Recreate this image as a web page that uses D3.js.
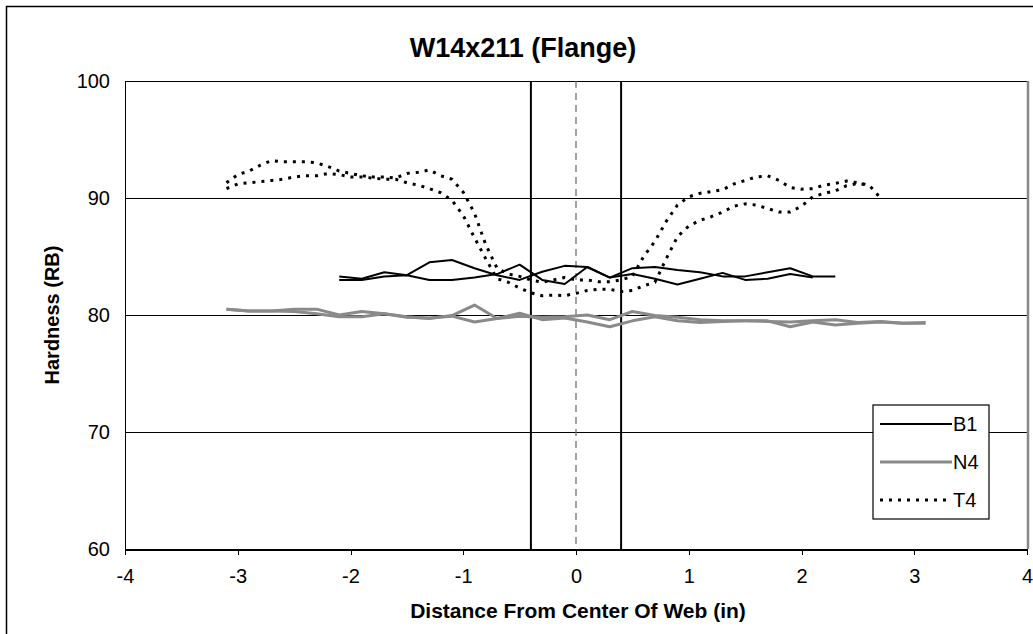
<!DOCTYPE html>
<meta charset="utf-8">
<style>
body { margin: 0; background: #fff; }
svg { font-family: Arial, "Liberation Sans", sans-serif; }
.axis path, .axis line { stroke: #000; shape-rendering: crispEdges; }
</style>
<body>
<script src="https://cdn.jsdelivr.net/npm/d3@7"></script>
<script>

// x positions (in) and hardness readings, two traverses per specimen
var xB1a = [-2.1,-1.9,-1.7,-1.5,-1.3,-1.1,-0.9,-0.7,-0.5,-0.3,-0.1,0.1,0.3,0.5,0.7,0.9,1.1,1.3,1.5,1.7,1.9,2.1,2.3];
var B1a  = [83.3,83.1,83.65,83.4,84.5,84.7,84.0,83.4,83.0,83.7,84.2,84.1,83.2,84.0,84.1,83.85,83.65,83.3,83.3,83.65,84.0,83.3,83.3];
var xB1b = [-2.1,-1.9,-1.7,-1.5,-1.3,-1.1,-0.9,-0.7,-0.5,-0.3,-0.1,0.1,0.3,0.5,0.7,0.9,1.1,1.3,1.5,1.7,1.9,2.1];
var B1b  = [83.0,83.0,83.3,83.4,83.0,83.0,83.2,83.5,84.3,83.0,82.65,84.1,83.2,83.5,83.1,82.6,83.1,83.6,83.0,83.1,83.5,83.2];

var xN4 = [-3.1,-2.9,-2.7,-2.5,-2.3,-2.1,-1.9,-1.7,-1.5,-1.3,-1.1,-0.9,-0.7,-0.5,-0.3,-0.1,0.1,0.3,0.5,0.7,0.9,1.1,1.3,1.5,1.7,1.9,2.1,2.3,2.5,2.7,2.9,3.1];
var N4a = [80.5,80.35,80.35,80.5,80.5,80.0,80.3,80.1,79.85,79.7,79.95,80.85,79.7,79.9,79.8,79.85,80.0,79.6,80.3,79.95,79.8,79.6,79.5,79.5,79.45,79.4,79.5,79.6,79.35,79.45,79.3,79.35];
var N4b = [80.5,80.35,80.35,80.3,80.1,79.85,79.85,80.1,79.8,79.75,79.9,79.4,79.7,80.15,79.6,79.75,79.4,79.0,79.5,79.85,79.5,79.35,79.45,79.5,79.5,79.0,79.4,79.15,79.3,79.4,79.3,79.3];

var xT4a = [-3.1,-3.0,-2.9,-2.8,-2.7,-2.6,-2.5,-2.4,-2.3,-2.2,-2.1,-2.0,-1.9,-1.8,-1.7,-1.6,-1.5,-1.4,-1.3,-1.2,-1.1,-1.0,-0.9,-0.8,-0.7,-0.6,-0.5,-0.4,-0.3,-0.2,-0.1,0.0,0.1,0.2,0.3,0.4,0.5,0.6,0.7,0.8,0.9,1.0,1.1,1.2,1.3,1.4,1.5,1.6,1.7,1.8,1.9,2.0,2.1,2.2,2.3,2.4,2.5,2.6,2.7];
var T4a  = [91.3,92.0,92.3,92.8,93.2,93.1,93.1,93.1,93.0,92.7,92.3,92.1,91.9,91.8,91.8,91.7,92.1,92.2,92.4,91.9,91.6,90.5,88.7,86.0,84.0,83.5,83.3,83.0,82.8,83.0,83.2,83.0,83.0,82.85,82.85,83.0,83.3,85.0,86.3,88.0,89.4,90.1,90.4,90.55,90.7,91.2,91.5,91.8,91.9,91.5,90.9,90.75,90.8,91.1,91.25,91.45,91.3,91.1,90.0];
var xT4b = [-3.1,-3.0,-2.9,-2.8,-2.7,-2.6,-2.5,-2.4,-2.3,-2.2,-2.1,-2.0,-1.9,-1.8,-1.7,-1.6,-1.5,-1.4,-1.3,-1.2,-1.1,-1.0,-0.9,-0.8,-0.7,-0.6,-0.5,-0.4,-0.3,-0.2,-0.1,0.0,0.1,0.2,0.3,0.4,0.5,0.6,0.7,0.8,0.9,1.0,1.1,1.2,1.3,1.4,1.5,1.6,1.7,1.8,1.9,2.0,2.1,2.2,2.3,2.4,2.5,2.6];
var T4b  = [90.8,91.2,91.3,91.4,91.5,91.6,91.8,91.9,91.9,92.1,92.0,91.8,91.8,91.7,91.6,91.6,91.3,91.1,90.8,90.45,89.8,88.5,86.6,84.8,83.1,82.8,82.3,81.9,81.65,81.7,81.65,81.85,82.1,82.2,82.2,82.0,82.1,82.5,82.8,84.8,86.7,87.6,88.1,88.4,88.8,89.3,89.5,89.4,89.1,88.8,88.8,89.3,90.1,90.4,90.6,91.05,91.25,91.1];

var xTicks = [-4,-3,-2,-1,0,1,2,3,4];
var yTicks = [60,70,80,90,100];
var webEdges = [-0.4, 0.4];
var legendNames = ["B1","N4","T4"];

var W = 1033, H = 634;
var mLeft = 125, mRight = 1027, mTop = 81, mBottom = 549;

var svg = d3.select("body").append("svg")
    .attr("width", W)
    .attr("height", H);

// outer chart frame (runs past the right/bottom edge of the picture)
svg.append("rect")
    .attr("x", 6.5).attr("y", 6.5)
    .attr("width", W).attr("height", H)
    .attr("fill", "none").attr("stroke", "#000").attr("stroke-width", 1.5);

var x = d3.scaleLinear().domain([-4, 4]).range([mLeft, mRight]);
var y = d3.scaleLinear().domain([60, 100]).range([mBottom, mTop]);

// gridlines
svg.append("g").selectAll("line")
    .data(yTicks.slice(1))
    .enter().append("line")
    .attr("x1", mLeft).attr("x2", mRight)
    .attr("y1", function(d) { return Math.round(y(d)) + 0.5; })
    .attr("y2", function(d) { return Math.round(y(d)) + 0.5; })
    .attr("stroke", "#000").attr("stroke-width", 1.2);

// plot area right border (grey)
svg.append("line")
    .attr("x1", mRight + 1).attr("x2", mRight + 1)
    .attr("y1", mTop).attr("y2", mBottom)
    .attr("stroke", "#888").attr("stroke-width", 2.5);

// web edges and centre
svg.append("g").selectAll("line")
    .data(webEdges)
    .enter().append("line")
    .attr("x1", function(d) { return x(d); }).attr("x2", function(d) { return x(d); })
    .attr("y1", mTop).attr("y2", mBottom)
    .attr("stroke", "#000").attr("stroke-width", 2);
svg.append("line")
    .attr("x1", x(0)).attr("x2", x(0))
    .attr("y1", mTop).attr("y2", mBottom)
    .attr("stroke", "#666").attr("stroke-width", 1.2)
    .attr("stroke-dasharray", "7,5");

// axes
var fmt = function(d) { return String(d); };
var xAxis = svg.append("g").attr("class", "axis")
    .attr("transform", "translate(0," + mBottom + ")")
    .call(d3.axisBottom(x).tickValues(xTicks).tickFormat(fmt).tickSize(6).tickSizeOuter(0).tickPadding(14));
xAxis.select("path").attr("stroke-width", 2);
xAxis.selectAll("text").attr("font-size", 20).attr("fill", "#000")
    .attr("font-family", "Arial, 'Liberation Sans', sans-serif");

var yAxis = svg.append("g").attr("class", "axis")
    .attr("transform", "translate(" + mLeft + ",0)")
    .call(d3.axisLeft(y).tickValues(yTicks).tickFormat(fmt).tickSize(0).tickSizeOuter(0).tickPadding(15));
yAxis.select("path").attr("stroke-width", 1.5);
yAxis.selectAll("text").attr("font-size", 20).attr("fill", "#000")
    .attr("font-family", "Arial, 'Liberation Sans', sans-serif");

// series
var line = d3.line()
    .x(function(d) { return x(d[0]); })
    .y(function(d) { return y(d[1]); });

function pairs(xs, vs) { return xs.map(function(v, i) { return [v, vs[i]]; }); }

var series = [
  {d: pairs(xN4, N4a), c: "#8a8a8a", w: 3, dash: null},
  {d: pairs(xN4, N4b), c: "#8a8a8a", w: 3, dash: null},
  {d: pairs(xB1a, B1a), c: "#000", w: 2, dash: null},
  {d: pairs(xB1b, B1b), c: "#000", w: 2, dash: null},
  {d: pairs(xT4a, T4a), c: "#000", w: 3, dash: "3,6"},
  {d: pairs(xT4b, T4b), c: "#000", w: 3, dash: "3,6"}
];

svg.append("g").selectAll("path")
    .data(series)
    .enter().append("path")
    .attr("d", function(s) { return line(s.d); })
    .attr("fill", "none")
    .attr("stroke", function(s) { return s.c; })
    .attr("stroke-width", function(s) { return s.w; })
    .attr("stroke-dasharray", function(s) { return s.dash; })
    .attr("stroke-linejoin", "round");

// legend
var lg = svg.append("g").attr("transform", "translate(873,405)");
lg.append("rect")
    .attr("width", 116).attr("height", 114)
    .attr("fill", "#fff").attr("stroke", "#000").attr("stroke-width", 1.2);
var lstyle = [
  {c: "#000", w: 2, dash: null},
  {c: "#8a8a8a", w: 3, dash: null},
  {c: "#000", w: 3, dash: "3,6"}
];
legendNames.forEach(function(n, i) {
  var yy = 19 + i * 38;
  lg.append("line")
      .attr("x1", 7).attr("x2", 79).attr("y1", yy).attr("y2", yy)
      .attr("stroke", lstyle[i].c).attr("stroke-width", lstyle[i].w)
      .attr("stroke-dasharray", lstyle[i].dash);
  lg.append("text")
      .attr("x", 80).attr("y", yy + 7)
      .attr("font-size", 20)
      .text(n);
});

// titles
svg.append("text")
    .attr("x", 523).attr("y", 57)
    .attr("text-anchor", "middle")
    .attr("font-size", 27).attr("font-weight", "bold")
    .text("W14x211 (Flange)");

svg.append("text")
    .attr("x", 578).attr("y", 618)
    .attr("text-anchor", "middle")
    .attr("font-size", 21).attr("font-weight", "bold")
    .text("Distance From Center Of Web (in)");

svg.append("text")
    .attr("transform", "translate(59,315) rotate(-90)")
    .attr("text-anchor", "middle")
    .attr("font-size", 20).attr("font-weight", "bold")
    .text("Hardness (RB)");

</script>
